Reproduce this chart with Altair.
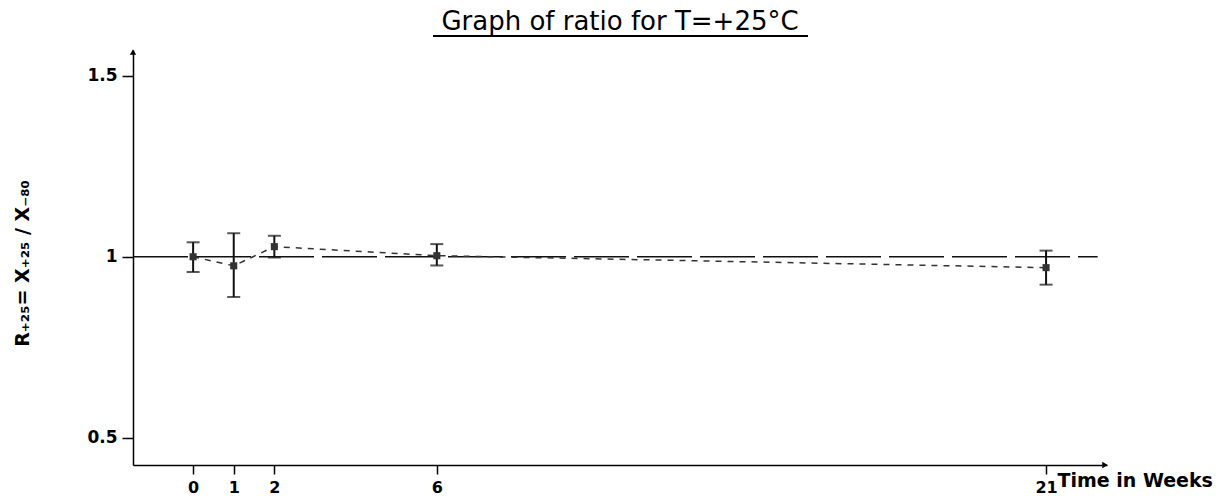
import altair as alt
import pandas as pd

weeks = [0, 1, 2, 6, 21]
ratio = [1.000, 0.975, 1.028, 1.003, 0.970]
err_low = [0.958, 0.889, 0.998, 0.976, 0.923]
err_high = [1.040, 1.065, 1.058, 1.035, 1.017]
x_ticks = [0, 1, 2, 6, 21]
y_ticks = [0.5, 1, 1.5]
ref_value = [1.0]
ref_start = [-1.48]
ref_end = [22.27]
chart_title = "Graph of ratio for T=+25°C"
x_title = "Time in Weeks"
y_title = "R₊₂₅= X₊₂₅ / X₋₈₀"

df = pd.DataFrame({"week": weeks, "ratio": ratio, "low": err_low, "high": err_high})
ref = pd.DataFrame({"week": ref_start, "x2": ref_end, "ratio": ref_value})

FONT = "DejaVu Sans"
xs = alt.Scale(domain=[-1.48, 22.5], nice=False, zero=False)
ys = alt.Scale(domain=[0.425, 1.571], nice=False, zero=False)

x_axis = alt.Axis(
    values=x_ticks, format="d", title=x_title,
    titleX=924, titleY=21, titleAlign="left", titleBaseline="alphabetic",
    titleFont=FONT, titleFontSize=19, titleFontWeight="bold", titleColor="black",
    labelFont=FONT, labelFontSize=16, labelFontWeight="bold", labelColor="black",
    labelPadding=5, tickSize=9, tickWidth=1.5, tickColor="black",
    domainColor="black", domainWidth=1.5, grid=False, labelFlush=False,
)
y_axis = alt.Axis(
    values=y_ticks, format="~g", title=y_title,
    titleX=-111, titleY=213, titleAngle=-90, titleAlign="center", titleBaseline="middle",
    titleFont=FONT, titleFontSize=19, titleFontWeight="bold", titleColor="black",
    labelFont=FONT, labelFontSize=17, labelFontWeight="bold", labelColor="black",
    labelPadding=5, tickSize=11, tickWidth=1.5, tickColor="black",
    domainColor="black", domainWidth=1.5, grid=False, labelFlush=False,
)

X = alt.X("week:Q", scale=xs, axis=x_axis, title=x_title)
Y = alt.Y("ratio:Q", scale=ys, axis=y_axis, title=y_title)
Ylow = alt.Y("low:Q", scale=ys, axis=y_axis, title=y_title)
Yhigh = alt.Y("high:Q", scale=ys, axis=y_axis, title=y_title)

base = alt.Chart(df)

line = base.mark_line(color="#333333", strokeWidth=1.5, strokeDash=[6, 6]).encode(x=X, y=Y)

refline = alt.Chart(ref).mark_rule(color="#111111", strokeWidth=1.5, strokeDash=[55, 8]).encode(
    x=X, x2="x2:Q", y=Y,
)

bars = base.mark_rule(color="#111111", strokeWidth=2).encode(x=X, y=Ylow, y2="high:Q")
cap_lo = base.mark_tick(color="#111111", orient="horizontal", size=13, thickness=2).encode(x=X, y=Ylow)
cap_hi = base.mark_tick(color="#111111", orient="horizontal", size=13, thickness=2).encode(x=X, y=Yhigh)
points = base.mark_square(color="#333333", size=50, opacity=1).encode(x=X, y=Y)

one = pd.DataFrame({"a": [0]})
arrow_y = alt.Chart(one).mark_point(
    shape="triangle-up", filled=True, color="black", size=40, opacity=1
).encode(x=alt.value(0), y=alt.value(2))
arrow_x = alt.Chart(one).mark_point(
    shape="triangle-right", filled=True, color="black", size=40, opacity=1
).encode(x=alt.value(972), y=alt.value(415))
title_text = alt.Chart(one).mark_text(
    text=chart_title, font=FONT, fontSize=26, color="black", align="center", baseline="alphabetic"
).encode(x=alt.value(487), y=alt.value(-20))
underline = alt.Chart(one).mark_rule(color="black", strokeWidth=2).encode(
    x=alt.value(300), x2=alt.value(675), y=alt.value(-14)
)

chart = alt.layer(
    refline, line, bars, cap_lo, cap_hi, points, arrow_y, arrow_x, title_text, underline
).properties(
    width=974, height=415,
    autosize=alt.AutoSizeParams(type="none"),
    padding={"left": 133, "top": 50, "right": 117, "bottom": 32},
    background="white",
).configure_view(stroke=None)

chart.save("out.html", embed_options={"renderer": "svg", "actions": False})
